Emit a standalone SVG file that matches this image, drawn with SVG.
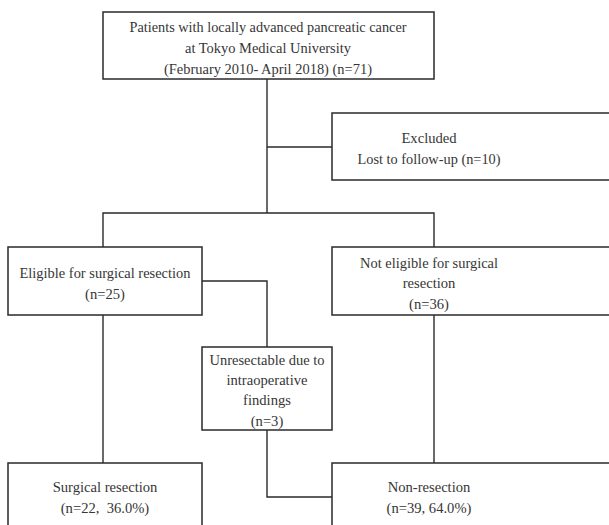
<svg xmlns="http://www.w3.org/2000/svg" width="609" height="525" viewBox="0 0 609 525">
<style>
.box{fill:#fff;stroke:#2a2a2a;stroke-width:1.5}
.ln{fill:none;stroke:#2a2a2a;stroke-width:1.4}
text{font-family:"Liberation Serif","Times New Roman",serif;font-size:14.6px;fill:#363636;text-anchor:middle}
</style>
<rect width="609" height="525" fill="#fff"/>
<g id="connectors">
<path class="ln" d="M267,79 V213"/>
<path class="ln" d="M267,147 H332"/>
<path class="ln" d="M103,247 V213 H434 V247"/>
<path class="ln" d="M202,281 H267 V347"/>
<path class="ln" d="M103,315 V463"/>
<path class="ln" d="M434,315 V463"/>
<path class="ln" d="M267,430 V497 H332"/>
</g>
<g id="patients">
<rect class="box" x="103" y="12" width="331" height="67"/>
<text x="268" y="32" textLength="277" lengthAdjust="spacingAndGlyphs">Patients with locally advanced pancreatic cancer</text>
<text x="268" y="53" textLength="166" lengthAdjust="spacingAndGlyphs">at Tokyo Medical University</text>
<text x="268" y="74" textLength="208" lengthAdjust="spacingAndGlyphs">(February 2010- April 2018) (n=71)</text>
</g>
<g id="excluded">
<rect class="box" x="332" y="113" width="290" height="67"/>
<text x="429" y="143">Excluded</text>
<text x="429" y="164" textLength="143" lengthAdjust="spacingAndGlyphs">Lost to follow-up (n=10)</text>
</g>
<g id="eligible">
<rect class="box" x="8" y="247" width="194" height="68"/>
<text x="105" y="278" textLength="171" lengthAdjust="spacingAndGlyphs">Eligible for surgical resection</text>
<text x="105" y="299">(n=25)</text>
</g>
<g id="not-eligible">
<rect class="box" x="332" y="247" width="290" height="68"/>
<text x="429" y="268" textLength="138" lengthAdjust="spacingAndGlyphs">Not eligible for surgical</text>
<text x="429" y="288">resection</text>
<text x="429" y="309">(n=36)</text>
</g>
<g id="unresectable">
<rect class="box" x="202" y="347" width="130" height="83"/>
<text x="267" y="365" textLength="115" lengthAdjust="spacingAndGlyphs">Unresectable due to</text>
<text x="267" y="385">intraoperative</text>
<text x="267" y="405">findings</text>
<text x="267" y="426">(n=3)</text>
</g>
<g id="surgical">
<rect class="box" x="8" y="463" width="194" height="80"/>
<text x="105" y="492">Surgical resection</text>
<text x="105" y="513" xml:space="preserve">(n=22,  36.0%)</text>
</g>
<g id="non-resection">
<rect class="box" x="332" y="463" width="290" height="80"/>
<text x="429" y="492">Non-resection</text>
<text x="429" y="513">(n=39, 64.0%)</text>
</g>
</svg>
